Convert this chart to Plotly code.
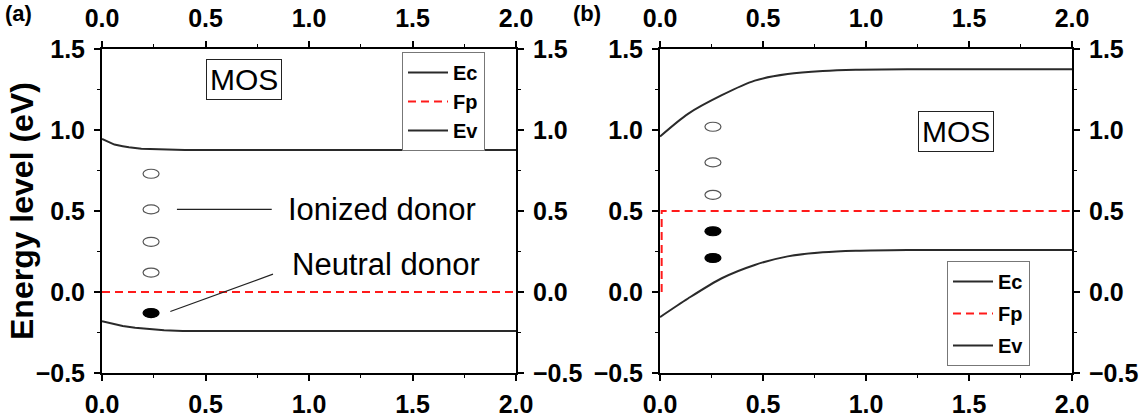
import plotly.graph_objects as go

# ---- band data: (a) MOS with Fermi level at 0, (b) Fermi level at 0.5 eV ----
ec_a_x = [0.0, 0.03, 0.06, 0.10, 0.13, 0.19, 0.29, 0.40, 2.0]
ec_a_y = [0.945, 0.925, 0.910, 0.900, 0.893, 0.884, 0.878, 0.876, 0.876]
ev_a_x = [0.0, 0.05, 0.10, 0.16, 0.22, 0.30, 0.39, 2.0]
ev_a_y = [-0.180, -0.197, -0.210, -0.221, -0.229, -0.236, -0.240, -0.240]
fp_a_x = [0.0, 2.0]
fp_a_y = [0.0, 0.0]

ec_b_x = [0.0, 0.136, 0.30, 0.46, 0.62, 0.79, 0.95, 1.2, 2.0]
ec_b_y = [0.96, 1.10, 1.215, 1.305, 1.345, 1.364, 1.372, 1.375, 1.375]
ev_b_x = [0.0, 0.136, 0.30, 0.46, 0.62, 0.79, 0.95, 1.2, 2.0]
ev_b_y = [-0.155, -0.04, 0.085, 0.167, 0.22, 0.245, 0.255, 0.26, 0.26]
fp_b_x = [0.008, 0.008, 2.0]
fp_b_y = [0.0, 0.5, 0.5]

# donor states (open = ionized, filled = neutral)
ion_a_x = [0.237, 0.237, 0.237, 0.237]
ion_a_y = [0.73, 0.51, 0.31, 0.12]
neu_a_x = [0.237]
neu_a_y = [-0.13]
ion_b_x = [0.257, 0.257, 0.257]
ion_b_y = [1.02, 0.80, 0.60]
neu_b_x = [0.257, 0.257]
neu_b_y = [0.375, 0.21]

# callout lines and labels in panel (a)
ionized_line_x = [0.362, 0.82]
ionized_line_y = [0.51, 0.51]
neutral_line_x = [0.33, 0.826]
neutral_line_y = [-0.12, 0.11]
ionized_label = ("Ionized donor", 0.889, 0.51)
neutral_label = ("Neutral donor", 0.908, 0.167)
mos_a = ("MOS", 0.686, 1.31)
mos_b = ("MOS", 1.437, 0.99)

x_range = [0.0, 2.0]
y_range = [-0.5, 1.5]
x_ticks = [0.0, 0.5, 1.0, 1.5, 2.0]
y_ticks = [-0.5, 0.0, 0.5, 1.0, 1.5]

W, H = 1141, 418
FONT = "Liberation Sans, Arial, sans-serif"
BAND_COLOR = "#2a2a2a"
FP_COLOR = "#ff1a1a"


def px_x(p):
    return p / W


def px_y(p):
    return (H - p) / H


dom_xa = [px_x(102), px_x(516)]
dom_xb = [px_x(660), px_x(1072)]
dom_y = [px_y(373), px_y(49)]

fig = go.Figure()


def add_panel(xa, ya, legend, ec, ev, fp, shape):
    fig.add_trace(go.Scatter(x=ec[0], y=ec[1], mode="lines", name="Ec",
                             line=dict(color=BAND_COLOR, width=2, shape=shape, smoothing=0.8),
                             xaxis=xa, yaxis=ya, legend=legend, legendgroup=legend + "ec"))
    fig.add_trace(go.Scatter(x=fp[0], y=fp[1], mode="lines", name="Fp",
                             line=dict(color=FP_COLOR, width=2, dash="8px,5px"),
                             xaxis=xa, yaxis=ya, legend=legend, legendgroup=legend + "fp"))
    fig.add_trace(go.Scatter(x=ev[0], y=ev[1], mode="lines", name="Ev",
                             line=dict(color=BAND_COLOR, width=2, shape=shape, smoothing=0.8),
                             xaxis=xa, yaxis=ya, legend=legend, legendgroup=legend + "ev"))


add_panel("x", "y", "legend", (ec_a_x, ec_a_y), (ev_a_x, ev_a_y), (fp_a_x, fp_a_y), "linear")
add_panel("x3", "y3", "legend2", (ec_b_x, ec_b_y), (ev_b_x, ev_b_y), (fp_b_x, fp_b_y), "spline")

# placeholder traces so the mirrored (top/right) axes are drawn
for xa, ya in (("x2", "y2"), ("x4", "y4")):
    fig.add_trace(go.Scatter(x=[None], y=[None], xaxis=xa, yaxis=ya,
                             showlegend=False, hoverinfo="skip"))

tick_font = dict(family=FONT, size=25, color="#000", weight="bold")


def axis(domain, **kw):
    d = dict(domain=domain, showline=True, linecolor="#000", linewidth=2,
             ticks="outside", ticklen=6, tickwidth=1.5, tickcolor="#000",
             tickfont=tick_font, showgrid=False, zeroline=False, automargin=False,
             tickvals=kw.pop("tickvals"), tickformat=".1f",
             minor=dict(ticks="outside", ticklen=3, tickwidth=1.2,
                        tickcolor="#000", dtick=0.25, showgrid=False))
    d.update(kw)
    return d


fig.update_layout(
    width=W, height=H,
    margin=dict(l=0, r=0, t=0, b=0),
    paper_bgcolor="white", plot_bgcolor="white",
    showlegend=True,
    xaxis=axis(dom_xa, tickvals=x_ticks, range=x_range, anchor="y", side="bottom",
               ticklabelstandoff=2),
    xaxis2=axis(dom_xa, tickvals=x_ticks, range=x_range, anchor="y", side="top",
                overlaying="x", ticklabelstandoff=4),
    yaxis=axis(dom_y, tickvals=y_ticks, range=y_range, anchor="x", side="left",
               ticklabelstandoff=4),
    yaxis2=axis(dom_y, tickvals=y_ticks, range=y_range, anchor="x", side="right",
                overlaying="y", ticklabelstandoff=4),
    xaxis3=axis(dom_xb, tickvals=x_ticks, range=x_range, anchor="y3", side="bottom",
                ticklabelstandoff=2),
    xaxis4=axis(dom_xb, tickvals=x_ticks, range=x_range, anchor="y3", side="top",
                overlaying="x3", ticklabelstandoff=4),
    yaxis3=axis(dom_y, tickvals=y_ticks, range=y_range, anchor="x3", side="left",
                ticklabelstandoff=4),
    yaxis4=axis(dom_y, tickvals=y_ticks, range=y_range, anchor="x3", side="right",
                overlaying="y3", ticklabelstandoff=4),
    legend=dict(x=px_x(402), y=px_y(52), xanchor="left", yanchor="top",
                bgcolor="white", bordercolor="#777", borderwidth=1,
                font=dict(family=FONT, size=20, color="#000", weight="bold"),
                tracegroupgap=0, itemwidth=40),
    legend2=dict(x=px_x(947), y=px_y(261), xanchor="left", yanchor="top",
                 bgcolor="white", bordercolor="#777", borderwidth=1,
                 font=dict(family=FONT, size=20, color="#000", weight="bold"),
                 tracegroupgap=3, itemwidth=40),
)

# donor ellipses, sized in pixels and anchored at data positions
shapes = []


def donors(xs, ys, xref, yref, filled):
    for xv, yv in zip(xs, ys):
        shapes.append(dict(type="circle", xref=xref, yref=yref,
                           xsizemode="pixel", ysizemode="pixel",
                           xanchor=xv, yanchor=yv, x0=-8, x1=8, y0=-4.5, y1=4.5,
                           line=dict(color="#000" if filled else "#555", width=1.2),
                           fillcolor="#000" if filled else "white", layer="above"))


donors(ion_a_x, ion_a_y, "x", "y", False)
donors(neu_a_x, neu_a_y, "x", "y", True)
donors(ion_b_x, ion_b_y, "x3", "y3", False)
donors(neu_b_x, neu_b_y, "x3", "y3", True)

for lx, ly in ((ionized_line_x, ionized_line_y), (neutral_line_x, neutral_line_y)):
    shapes.append(dict(type="line", xref="x", yref="y", x0=lx[0], x1=lx[1],
                       y0=ly[0], y1=ly[1], line=dict(color="#222", width=1.2)))

fig.update_layout(shapes=shapes)

annotations = []
for text, xv, yv in (ionized_label, neutral_label):
    annotations.append(dict(text=text, x=xv, y=yv, xref="x", yref="y",
                            xanchor="left", yanchor="middle", showarrow=False,
                            font=dict(family=FONT, size=31, color="#000")))

for (text, xv, yv), xr, yr in ((mos_a, "x", "y"), (mos_b, "x3", "y3")):
    annotations.append(dict(text=text, x=xv, y=yv, xref=xr, yref=yr,
                            xanchor="center", yanchor="middle", showarrow=False,
                            bordercolor="#222", borderwidth=1, borderpad=3,
                            bgcolor="white",
                            font=dict(family=FONT, size=30, color="#000")))

annotations.append(dict(text="Energy level (eV)", x=px_x(22), y=px_y(211),
                        xref="paper", yref="paper", textangle=-90,
                        xanchor="center", yanchor="middle", showarrow=False,
                        font=dict(family=FONT, size=32, color="#000", weight="bold")))
annotations.append(dict(text="(a)", x=px_x(3), y=px_y(14), xref="paper", yref="paper",
                        xanchor="left", yanchor="middle", showarrow=False,
                        font=dict(family=FONT, size=22, color="#000", weight="bold")))
annotations.append(dict(text="(b)", x=px_x(571), y=px_y(14), xref="paper", yref="paper",
                        xanchor="left", yanchor="middle", showarrow=False,
                        font=dict(family=FONT, size=22, color="#000", weight="bold")))

fig.update_layout(annotations=annotations)

fig.write_html("out.html")
